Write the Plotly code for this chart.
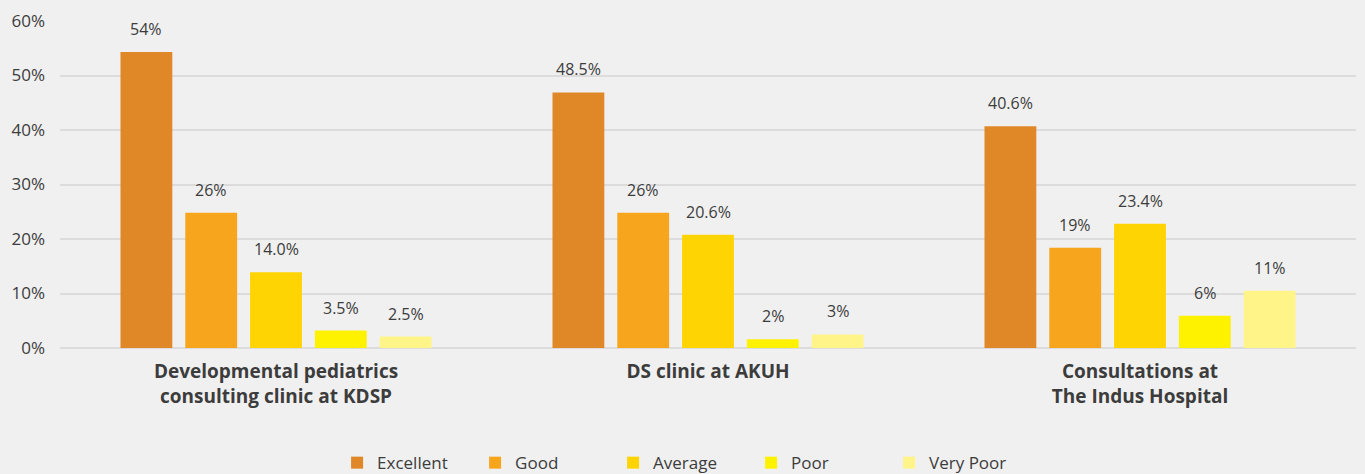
import plotly.graph_objects as go

categories = ["Developmental pediatrics<br>consulting clinic at KDSP",
              "DS clinic at AKUH",
              "Consultations at<br>The Indus Hospital"]
series_names = ["Excellent", "Good", "Average", "Poor", "Very Poor"]
colors = ["#E08828", "#F8A51E", "#FFD402", "#FFF200", "#FFF488"]

excellent = [54.3, 46.9, 40.7]
good = [24.8, 24.8, 18.4]
average = [13.9, 20.8, 22.8]
poor = [3.2, 1.6, 5.9]
very_poor = [2.1, 2.5, 10.5]

excellent_labels = ["54%", "48.5%", "40.6%"]
good_labels = ["26%", "26%", "19%"]
average_labels = ["14.0%", "20.6%", "23.4%"]
poor_labels = ["3.5%", "2%", "6%"]
very_poor_labels = ["2.5%", "3%", "11%"]

values = [excellent, good, average, poor, very_poor]
labels = [excellent_labels, good_labels, average_labels, poor_labels, very_poor_labels]

FONT = "Open Sans"
TXT = "#3C3C3C"
W, H = 1365, 474
ML, MR, MT, MB = 60, 9, 17, 126
BARGAP = 0.25

fig = go.Figure()
for name, col, vals in zip(series_names, colors, values):
    fig.add_trace(go.Bar(
        name=name, x=categories, y=vals,
        marker=dict(color=col, line=dict(width=0)),
        hoverinfo="skip",
    ))

# value labels above each bar (offset within the group by the bar slot width)
cat_px = (W - ML - MR) / len(categories)
slot_px = cat_px * (1 - BARGAP) / len(series_names)
annotations = []
for i, (vals, labs) in enumerate(zip(values, labels)):
    shift = (i - (len(series_names) - 1) / 2) * slot_px
    for cat, v, lab in zip(categories, vals, labs):
        annotations.append(dict(
            x=cat, y=v, xref="x", yref="y", text=lab, showarrow=False,
            xshift=shift, yshift=23, yanchor="middle",
            font=dict(family=FONT, size=16, color=TXT)))

fig.update_layout(
    width=W, height=H,
    paper_bgcolor="#F0F0F0", plot_bgcolor="#F0F0F0",
    margin=dict(l=ML, r=MR, t=MT, b=MB),
    barmode="group", bargap=BARGAP, bargroupgap=0.2,
    font=dict(family=FONT, color=TXT),
    annotations=annotations,
    showlegend=True,
    legend=dict(orientation="h", x=0.48, xanchor="center",
                yref="container", y=0.023, yanchor="middle",
                font=dict(family=FONT, size=17, color=TXT),
                itemwidth=30, traceorder="normal",
                entrywidth=93, entrywidthmode="pixels"),
)
fig.update_yaxes(range=[0, 60], dtick=10, ticksuffix="%",
                 showgrid=True, gridcolor="#DCDCDC", gridwidth=2,
                 zeroline=True, zerolinecolor="#DCDCDC", zerolinewidth=2,
                 showline=False, ticks="", ticklabelstandoff=14,
                 tickfont=dict(family=FONT, size=17, color=TXT))
fig.update_xaxes(showline=False, ticks="", showgrid=False, ticklabelstandoff=10,
                 tickfont=dict(family=FONT, size=19, color=TXT, weight="bold"))

fig.write_html("out.html", config={"displayModeBar": False},
               post_script="document.body.style.margin='0';")
